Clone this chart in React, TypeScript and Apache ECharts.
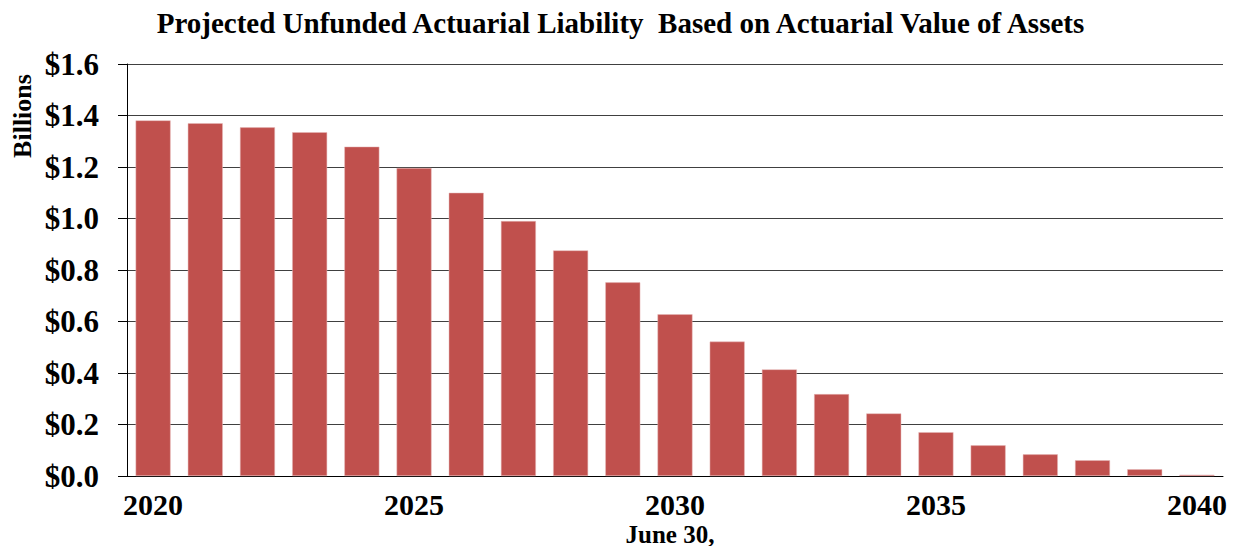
import React, { useEffect, useRef } from "react";
import * as echarts from "echarts";

const years: string[] = [
  "2020", "2021", "2022", "2023", "2024", "2025", "2026", "2027", "2028", "2029",
  "2030", "2031", "2032", "2033", "2034", "2035", "2036", "2037", "2038", "2039", "2040",
];
const liability: number[] = [
  1.381, 1.370, 1.354, 1.335, 1.279, 1.196, 1.100, 0.990, 0.876, 0.752,
  0.628, 0.522, 0.414, 0.318, 0.243, 0.170, 0.119, 0.084, 0.061, 0.026, 0.005,
];
const titleText = "Projected Unfunded Actuarial Liability  Based on Actuarial Value of Assets";
const yAxisTitle = "Billions";
const xAxisTitle = "June 30,";

const FONT = "'Liberation Serif', 'Times New Roman', serif";

export default function App() {
  const ref = useRef<HTMLDivElement>(null);
  useEffect(() => {
    document.body.style.margin = "0";
    const chart = echarts.init(ref.current!, null, { renderer: "svg" });
    chart.setOption({
      animation: false,
      backgroundColor: "#ffffff",
      title: {
        text: titleText,
        left: "center",
        top: 3,
        textStyle: { fontFamily: FONT, fontWeight: "bold", fontSize: 29, color: "#000" },
      },
      grid: { left: 127, right: 18, top: 64, bottom: 70, containLabel: false, outerBoundsMode: "none" },
      xAxis: {
        type: "category",
        data: years,
        axisLine: { show: true, lineStyle: { color: "#000", width: 1 } },
        axisTick: { show: false },
        axisLabel: {
          interval: 4,
          margin: 13,
          fontFamily: FONT,
          fontWeight: "bold",
          fontSize: 30,
          color: "#000",
        },
      },
      yAxis: {
        type: "value",
        min: 0,
        max: 1.6,
        interval: 0.2,
        axisLine: { show: true, lineStyle: { color: "#000", width: 1 } },
        axisTick: { show: true, inside: false, length: 9, lineStyle: { color: "#000" } },
        splitLine: { show: true, lineStyle: { color: "#404040", width: 1 } },
        axisLabel: {
          margin: 28,
          fontFamily: FONT,
          fontWeight: "bold",
          fontSize: 31,
          color: "#000",
          formatter: (v: number) => "$" + v.toFixed(1),
        },
      },
      graphic: [
        {
          type: "text",
          x: 22,
          y: 116,
          rotation: Math.PI / 2,
          style: {
            text: yAxisTitle,
            fontFamily: FONT,
            fontWeight: "bold",
            fontSize: 26,
            fill: "#000",
            align: "center",
            verticalAlign: "middle",
          },
        },
        {
          type: "text",
          x: 670,
          y: 534,
          style: {
            text: xAxisTitle,
            fontFamily: FONT,
            fontWeight: "bold",
            fontSize: 25,
            fill: "#000",
            align: "center",
            verticalAlign: "middle",
          },
        },
      ],
      series: [
        {
          type: "bar",
          data: liability,
          barCategoryGap: "33%",
          itemStyle: { color: "#C0504D", borderColor: "#E6B9B8", borderWidth: 0.5 },
        },
      ],
    });
    return () => chart.dispose();
  }, []);
  return <div ref={ref} style={{ width: 1241, height: 546 }} />;
}
